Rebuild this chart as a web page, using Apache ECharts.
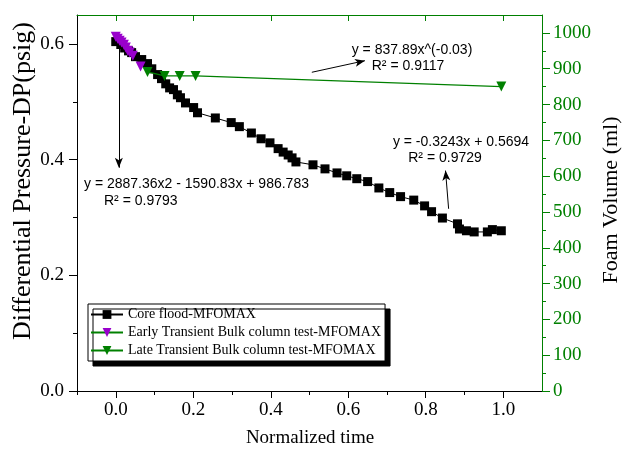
<!DOCTYPE html>
<html><head><meta charset="utf-8">
<script src="https://cdn.jsdelivr.net/npm/echarts@6/dist/echarts.min.js"></script>
<style>html,body{margin:0;padding:0;background:#fff}#c{width:625px;height:453px}</style>
</head><body><div id="c"></div>
<script>
// Core flood - MFOMAX (left axis, psig)
const coreX = [0.000,0.013,0.023,0.033,0.041,0.051,0.067,0.082,0.093,0.108,0.118,0.129,0.139,0.149,0.159,0.167,0.180,0.201,0.211,0.257,0.298,0.319,0.350,0.375,0.398,0.419,0.432,0.445,0.455,0.465,0.509,0.540,0.571,0.596,0.622,0.650,0.679,0.707,0.735,0.769,0.797,0.815,0.843,0.882,0.887,0.905,0.925,0.959,0.972,0.995];
const coreY = [0.604,0.599,0.593,0.588,0.585,0.578,0.573,0.566,0.557,0.547,0.540,0.531,0.524,0.521,0.512,0.507,0.498,0.490,0.481,0.472,0.464,0.457,0.446,0.436,0.429,0.419,0.413,0.408,0.403,0.396,0.391,0.384,0.377,0.372,0.367,0.362,0.351,0.343,0.336,0.330,0.320,0.310,0.299,0.289,0.280,0.277,0.275,0.275,0.279,0.277];
// Early transient bulk column test (right axis, ml)
const earlyX = [0.000,0.005,0.010,0.015,0.021,0.026,0.031,0.036,0.044,0.064];
const earlyY = [989,984,978,973,967,959,950,945,936,906];
// Late transient bulk column test (right axis, ml)
const lateX = [0.082,0.126,0.165,0.206,0.995];
const lateY = [891,880,880,880,850];
// ticks
const xTicks = [0,0.2,0.4,0.6,0.8,1.0];
const xMinorTicks = [-0.1,0.1,0.3,0.5,0.7,0.9];
const yLeftTicks = [0,0.2,0.4,0.6];
const yLeftMinor = [0.1,0.3,0.5];
const yRightTicks = [0,100,200,300,400,500,600,700,800,900,1000];
const yRightMinor = [50,150,250,350,450,550,650,750,850,950];
const seriesNames = ['Core flood-MFOMAX','Early Transient Bulk column test-MFOMAX','Late Transient Bulk column test-MFOMAX'];

const GREEN = '#008000', PURPLE = '#9900CC';
const SERIF = '"Liberation Serif", "Times New Roman", serif';
const SANS = '"Liberation Sans", Arial, sans-serif';
const zip = (a,b)=>a.map((v,i)=>[v,b[i]]);

const chart = echarts.init(document.getElementById('c'), null, {renderer:'canvas'});
const baseX = {type:'value', min:-0.1, max:1.1, splitLine:{show:false}};
const baseYL = {type:'value', min:0, max:0.65, splitLine:{show:false}};
const baseYR = {type:'value', min:0, max:1050, splitLine:{show:false}};
chart.setOption({
  animation:false,
  backgroundColor:'#fff',
  grid:{left:77, right:83, top:15, bottom:62},
  xAxis:[
    Object.assign({}, baseX, {position:'bottom',
      axisLine:{show:true, onZero:false, lineStyle:{color:'#000', width:1}},
      axisTick:{show:true, inside:false, length:7, customValues:xTicks, lineStyle:{color:'#000'}},
      axisLabel:{show:true, customValues:xTicks, margin:10, color:'#000', fontFamily:SERIF, fontSize:19, formatter:v=>v.toFixed(1)}}),
    Object.assign({}, baseX, {position:'bottom',
      axisLine:{show:false, onZero:false},
      axisTick:{show:true, inside:false, length:4, customValues:xMinorTicks, lineStyle:{color:'#000'}},
      axisLabel:{show:false}}),
    Object.assign({}, baseX, {position:'top',
      axisLine:{show:true, onZero:false, lineStyle:{color:GREEN, width:1}},
      axisTick:{show:true, inside:true, length:6, customValues:xTicks, lineStyle:{color:GREEN}},
      axisLabel:{show:false}})
  ],
  yAxis:[
    Object.assign({}, baseYL, {position:'left',
      axisLine:{show:true, onZero:false, lineStyle:{color:'#000', width:1}},
      axisTick:{show:true, inside:false, length:8, customValues:yLeftTicks, lineStyle:{color:'#000'}},
      axisLabel:{show:true, customValues:yLeftTicks, margin:13, color:'#000', fontFamily:SERIF, fontSize:19, formatter:v=>v.toFixed(1)}}),
    Object.assign({}, baseYR, {position:'right',
      axisLine:{show:true, onZero:false, lineStyle:{color:GREEN, width:1}},
      axisTick:{show:true, inside:false, length:8, customValues:yRightTicks, lineStyle:{color:GREEN}},
      axisLabel:{show:true, customValues:yRightTicks, margin:11, color:GREEN, fontFamily:SERIF, fontSize:19, formatter:v=>String(Math.round(v))}}),
    Object.assign({}, baseYL, {position:'left',
      axisLine:{show:false, onZero:false},
      axisTick:{show:true, inside:false, length:4, customValues:yLeftMinor, lineStyle:{color:'#000'}},
      axisLabel:{show:false}}),
    Object.assign({}, baseYR, {position:'right',
      axisLine:{show:false, onZero:false},
      axisTick:{show:true, inside:false, length:4, customValues:yRightMinor, lineStyle:{color:GREEN}},
      axisLabel:{show:false}})
  ],
  legend:{
    orient:'vertical', left:88, top:304,
    data:seriesNames,
    itemWidth:32, itemHeight:11, itemGap:1,
    padding:[2,4,2,2],
    backgroundColor:'#fff', borderColor:'#000', borderWidth:1,
    shadowColor:'#000', shadowOffsetX:5, shadowOffsetY:5, shadowBlur:0,
    textStyle:{fontFamily:SERIF, fontSize:14, color:'#000', lineHeight:17},
    selectedMode:false
  },
  series:[
    {name:seriesNames[0], type:'line', xAxisIndex:0, yAxisIndex:0,
     data:zip(coreX,coreY), symbol:'rect', symbolSize:9,
     itemStyle:{color:'#000'}, lineStyle:{color:'#000', width:1},
     markLine:{silent:true, symbol:['none','arrow'], symbolSize:[6,10], label:{show:false},
       lineStyle:{color:'#000', width:1, type:'solid'},
       data:[
         [{coord:[0.008,0.593]},{coord:[0.008,0.386]}],
         [{coord:[0.506,0.551]},{coord:[0.643,0.571]}],
         [{coord:[0.859,0.315]},{coord:[0.851,0.381]}]
       ]}},
    {name:seriesNames[1], type:'line', xAxisIndex:0, yAxisIndex:1,
     data:zip(earlyX,earlyY), symbol:'triangle', symbolRotate:180, symbolSize:10,
     itemStyle:{color:PURPLE}, lineStyle:{color:GREEN, width:1}, z:3},
    {name:seriesNames[2], type:'line', xAxisIndex:0, yAxisIndex:1,
     data:zip(lateX,lateY), symbol:'triangle', symbolRotate:180, symbolSize:10,
     itemStyle:{color:GREEN}, lineStyle:{color:GREEN, width:1.2}, z:4}
  ],
  graphic:[
    {type:'text', x:412, y:50, style:{text:'y = 837.89x^(-0.03)', font:'14px '+SANS, fill:'#000', align:'center', verticalAlign:'middle'}},
    {type:'text', x:408, y:66, style:{text:'R² = 0.9117', font:'14px '+SANS, fill:'#000', align:'center', verticalAlign:'middle'}},
    {type:'text', x:84, y:184, style:{text:'y = 2887.36x2 - 1590.83x + 986.783', font:'14px '+SANS, fill:'#000', align:'left', verticalAlign:'middle'}},
    {type:'text', x:104, y:201, style:{text:'R² = 0.9793', font:'14px '+SANS, fill:'#000', align:'left', verticalAlign:'middle'}},
    {type:'text', x:461, y:142, style:{text:'y = -0.3243x + 0.5694', font:'14px '+SANS, fill:'#000', align:'center', verticalAlign:'middle'}},
    {type:'text', x:445, y:158, style:{text:'R² = 0.9729', font:'14px '+SANS, fill:'#000', align:'center', verticalAlign:'middle'}},
    {type:'text', x:23, y:181, rotation:Math.PI/2, style:{text:'Differential Pressure-DP(psig)', font:'26px '+SERIF, fill:'#000', align:'center', verticalAlign:'middle'}},
    {type:'text', x:611, y:200, rotation:Math.PI/2, style:{text:'Foam Volume (ml)', font:'22px '+SERIF, fill:'#000', align:'center', verticalAlign:'middle'}},
    {type:'text', x:310, y:438, style:{text:'Normalized time', font:'19px '+SERIF, fill:'#000', align:'center', verticalAlign:'middle'}}
  ]
});
</script></body></html>
